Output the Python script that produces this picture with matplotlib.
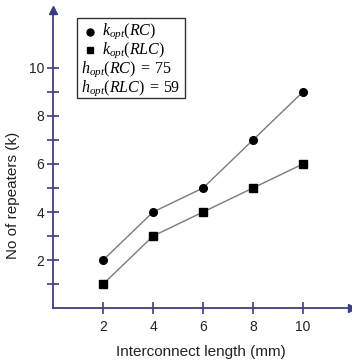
import matplotlib
matplotlib.use("Agg")
import matplotlib.pyplot as plt
from matplotlib.patches import Rectangle

plt.rcParams['font.family'] = ['Liberation Sans', 'DejaVu Sans']
plt.rcParams['mathtext.fontset'] = 'custom'
plt.rcParams['mathtext.it'] = 'Liberation Serif:italic'
plt.rcParams['mathtext.rm'] = 'Liberation Serif'

# data
length = [2, 4, 6, 8, 10]
k_rc = [2, 4, 5, 7, 9]
k_rlc = [1, 3, 4, 5, 6]
h_rc = 75
h_rlc = 59

navy = '#3c3c86'
linec = '#7a7a7a'

fig = plt.figure(figsize=(3.52, 3.60), dpi=100)
ax = fig.add_axes([0.151, 0.144, 0.849, 0.828])

ax.plot(length, k_rc, color=linec, lw=1.0, marker='o', ms=5.5, mfc='black', mec='black', zorder=3)
ax.plot(length, k_rlc, color=linec, lw=1.0, marker='s', ms=5.5, mfc='black', mec='black', zorder=3)

ax.set_xlim(0, 11.96)
ax.set_ylim(0, 12.4)
ax.set_xticks([2, 4, 6, 8, 10])
ax.set_yticks(range(1, 11))
ax.set_yticklabels([str(v) if v % 2 == 0 else '' for v in range(1, 11)])

for s in ['top', 'right']:
    ax.spines[s].set_visible(False)
for s in ['left', 'bottom']:
    ax.spines[s].set_color(navy)
    ax.spines[s].set_linewidth(1.3)
ax.tick_params(direction='inout', length=9, width=1.2, color=navy,
               labelsize=10, labelcolor='#222222')
ax.tick_params(axis='x', pad=4)
ax.tick_params(axis='y', pad=2)

# arrow heads on the axes
ax.plot(0, 1, marker='^', ms=6, color=navy, transform=ax.transAxes, clip_on=False)
ax.plot(1, 0, marker='>', ms=6, color=navy, transform=ax.transAxes, clip_on=False)

ax.set_xlabel('Interconnect length (mm)', fontsize=11, color='#222222')
ax.set_ylabel('No of repeaters (k)', fontsize=11, color='#222222')
ax.xaxis.set_label_coords(0.495, -0.124)
ax.yaxis.set_label_coords(-0.11, 0.38)

# legend box drawn by hand
ax.add_patch(Rectangle((0.080, 0.705), 0.361, 0.268, transform=ax.transAxes,
                       fill=False, ec='#333333', lw=1.0, clip_on=False))
ax.plot(0.124, 0.926, marker='o', ms=5, color='black', transform=ax.transAxes)
ax.plot(0.124, 0.866, marker='s', ms=5, color='black', transform=ax.transAxes)
fs = 11.5
ax.text(0.165, 0.928, r'$k_{opt}(RC)$', transform=ax.transAxes, fontsize=fs, va='center')
ax.text(0.165, 0.866, r'$k_{opt}(RLC)$', transform=ax.transAxes, fontsize=fs, va='center')
ax.text(0.093, 0.801, r'$h_{opt}(RC)\;=\;$' + str(h_rc), transform=ax.transAxes,
        fontsize=fs, va='center', family='Liberation Serif')
ax.text(0.093, 0.738, r'$h_{opt}(RLC)\;=\;$' + str(h_rlc), transform=ax.transAxes,
        fontsize=fs, va='center', family='Liberation Serif')

fig.savefig('out.png', dpi=100)
